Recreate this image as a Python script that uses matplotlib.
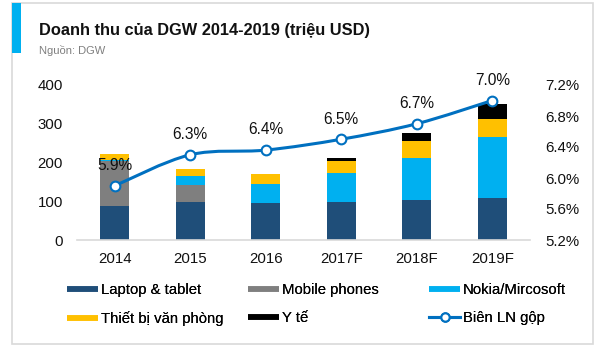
import matplotlib
matplotlib.use("Agg")
import matplotlib.pyplot as plt
import numpy as np
from matplotlib.path import Path
from matplotlib.patches import PathPatch, Rectangle
from matplotlib.lines import Line2D

plt.rcParams['font.family'] = ['Liberation Sans', 'DejaVu Sans']

categories = ["2014", "2015", "2016", "2017F", "2018F", "2019F"]
laptop = [88, 97, 95, 98, 103, 108]
mobile = [116, 46, 0, 0, 0, 0]
nokia = [3, 21, 50, 74, 109, 157]
office = [14, 18, 26, 31, 43, 48]
yte = [0, 0, 0, 9, 20, 37]
margin = [5.9, 6.3, 6.36, 6.5, 6.7, 7.0]
left_ticks = [0, 100, 200, 300, 400]
right_ticks = [5.2, 5.6, 6.0, 6.4, 6.8, 7.2]

series = [("Laptop & tablet", laptop, "#1F4E79"),
          ("Mobile phones", mobile, "#7F7F7F"),
          ("Nokia/Mircosoft", nokia, "#00B0F0"),
          ("Thiết bị văn phòng", office, "#FFC000"),
          ("Y tế", yte, "#000000")]
line_color = "#0070C0"

W, H = 600, 352
fig = plt.figure(figsize=(6, 3.52), dpi=100)

def fx(px):
    return px / W

def fy(py):
    return 1 - py / H

# card frame
fig.patches.append(Rectangle((fx(12), fy(344)), fx(593) - fx(12), fy(3) - fy(344),
                             transform=fig.transFigure, fill=False,
                             edgecolor="#D9D9D9", linewidth=1.2))
fig.patches.append(Rectangle((fx(12), fy(53)), fx(21) - fx(12), fy(3) - fy(53),
                             transform=fig.transFigure, facecolor="#00B0F0",
                             edgecolor="none"))
fig.text(fx(39), fy(30), "Doanh thu của DGW 2014-2019 (triệu USD)", fontsize=11.8,
         fontweight="bold", va="center", ha="left", color="#111111")
fig.text(fx(39), fy(51), "Nguồn: DGW", fontsize=8, va="center", ha="left",
         color="#7F7F7F")

ax = fig.add_axes([fx(77), fy(240), fx(530) - fx(77), fy(85) - fy(240)])
x = np.arange(len(categories))
bottom = np.zeros(len(categories))
for name, vals, col in series:
    v = np.array(vals, dtype=float)
    ax.bar(x, v, bottom=bottom, width=0.39, color=col, edgecolor="none", label=name)
    bottom += v

ax.set_xlim(-0.5, len(categories) - 0.5)
ax.set_ylim(0, 400)
ax.set_yticks(left_ticks)
ax.set_xticks(x)
ax.set_xticklabels(categories)
for s in ["top", "right", "left"]:
    ax.spines[s].set_visible(False)
ax.spines["bottom"].set_color("#D9D9D9")
ax.spines["bottom"].set_linewidth(1.2)
ax.tick_params(axis="both", length=0, labelsize=10.8, colors="#111111")
ax.tick_params(axis="y", pad=10)
ax.tick_params(axis="x", pad=8.5)

ax2 = ax.twinx()
ax2.set_ylim(5.2, 7.2)
ax2.set_yticks(right_ticks)
ax2.set_yticklabels([f"{t:.1f}%" for t in right_ticks])
for s in ["top", "right", "left", "bottom"]:
    ax2.spines[s].set_visible(False)
ax2.tick_params(axis="y", length=0, labelsize=10.8, colors="#111111", pad=11)

# smooth line through data points (Catmull-Rom -> cubic Bezier)
pts = np.column_stack([x.astype(float), np.array(margin)])
verts = [tuple(pts[0])]
codes = [Path.MOVETO]
n = len(pts)
for i in range(n - 1):
    p0 = pts[i - 1] if i > 0 else pts[i]
    p1 = pts[i]
    p2 = pts[i + 1]
    p3 = pts[i + 2] if i + 2 < n else pts[i + 1]
    c1 = p1 + (p2 - p0) / 6.0
    c2 = p2 - (p3 - p1) / 6.0
    verts += [tuple(c1), tuple(c2), tuple(p2)]
    codes += [Path.CURVE4] * 3
ax2.add_patch(PathPatch(Path(verts, codes), facecolor="none", edgecolor=line_color,
                        linewidth=2.2, zorder=3))
ax2.plot(x, margin, linestyle="none", marker="o", markersize=7,
         markerfacecolor="white", markeredgecolor=line_color, markeredgewidth=1.5,
         zorder=4)
for xi, m in zip(x, margin):
    ax2.annotate(f"{m:.1f}%", (xi, m), xytext=(0, 14.5), textcoords="offset points",
                 ha="center", va="center", fontsize=11.2, color="#111111", zorder=5)

# legend (three columns, row-wise order)
handles = [Line2D([], [], color=c, linewidth=4, solid_capstyle="butt") for _, _, c in series]
handles.append(Line2D([], [], color=line_color, linewidth=2.2, marker="o", markersize=6,
                      markerfacecolor="white", markeredgecolor=line_color,
                      markeredgewidth=1.5))
labels = [s[0] for s in series] + ["Biên LN gộp"]
col_groups = [[0, 3], [1, 4], [2, 5]]
col_x = [67, 248, 429]
for grp, cx in zip(col_groups, col_x):
    leg = fig.legend([handles[i] for i in grp], [labels[i] for i in grp],
                     loc="upper left", bbox_to_anchor=(fx(cx), fy(283)),
                     frameon=False, fontsize=10.7, handlelength=2.1, handletextpad=0.2,
                     labelspacing=0.95, borderpad=0, borderaxespad=0)
    fig.add_artist(leg)

fig.savefig("out.png", dpi=100)
